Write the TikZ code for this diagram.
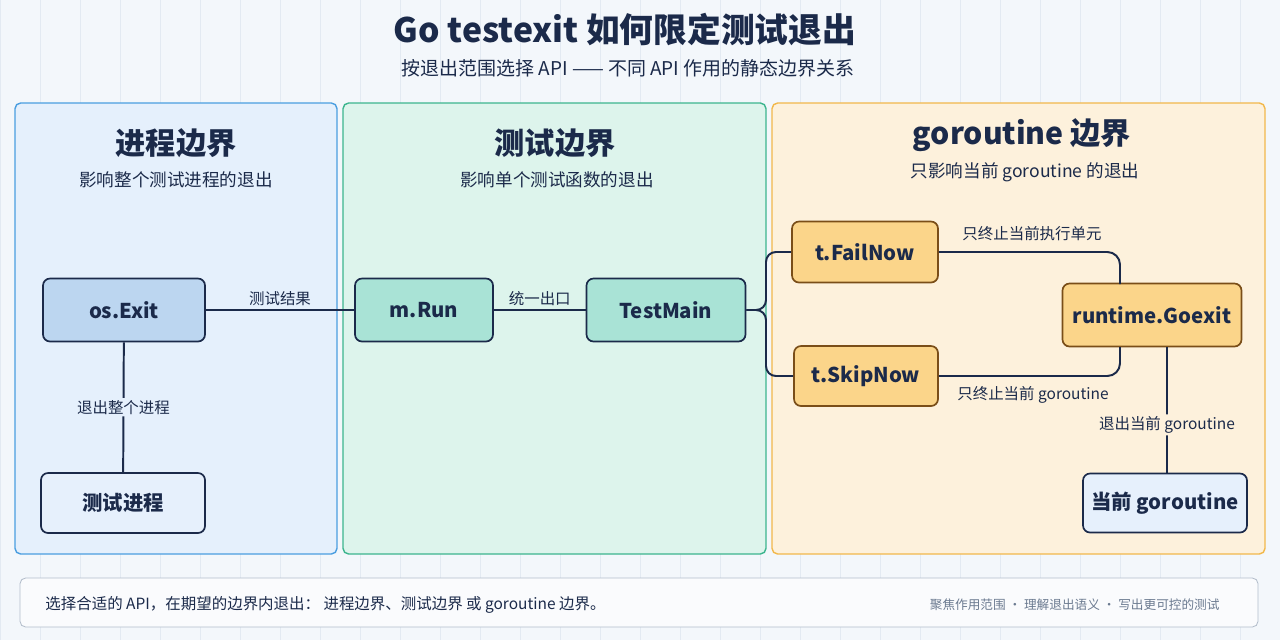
\documentclass[tikz,border=0pt]{standalone}
\usepackage{fontspec}
\setmainfont{Noto Sans CJK SC}
\usetikzlibrary{positioning}
\definecolor{ink}{HTML}{1B2A4A}
\definecolor{bgc}{HTML}{F3F7FB}
\definecolor{gridc}{HTML}{E3EAF2}
\definecolor{pblue}{HTML}{E5F0FC}
\definecolor{bblue}{HTML}{4A9EE0}
\definecolor{pgreen}{HTML}{DDF4EC}
\definecolor{bgreen}{HTML}{3CB58E}
\definecolor{porange}{HTML}{FDF1DC}
\definecolor{borange}{HTML}{F2B84B}
\definecolor{nblue}{HTML}{BCD6F0}
\definecolor{lblue}{HTML}{E6F0FC}
\definecolor{ngreen}{HTML}{A9E3D6}
\definecolor{norange}{HTML}{FBD58A}
\definecolor{dorange}{HTML}{7A4E18}
\definecolor{greytxt}{HTML}{6B7A90}
\tikzset{
  panel/.style={draw=#1, line width=2pt, rounded corners=8pt},
  box/.style={draw=ink, line width=2.4pt, rounded corners=10pt, text=ink,
    font=\fontsize{29}{32}\selectfont\bfseries},
  obox/.style={box, draw=dorange, fill=norange},
  link/.style={draw=ink, line width=2.8pt, rounded corners=18pt},
  lbl/.style={text=ink, font=\fontsize{22}{24}\selectfont},
  ptitle/.style={text=ink, font=\fontsize{43}{46}\selectfont\bfseries},
  psub/.style={text=ink, font=\fontsize{25}{28}\selectfont}
}
\begin{document}
\begin{tikzpicture}[x=0.05cm, y=-0.05cm]
  \useasboundingbox (0,0) rectangle (1280,640);
  \fill[bgc] (0,0) rectangle (1280,640);
  \draw[gridc, line width=0.6pt, step=40] (0,0) grid (1280,640);
  % title
  \node[text=ink, font=\fontsize{48}{52}\selectfont\bfseries] (title) at (625,30) {Go testexit 如何限定测试退出};
  \node[text=ink, font=\fontsize{27}{30}\selectfont] (subtitle) at (628,68) {按退出范围选择 API —— 不同 API 作用的静态边界关系};
  % panels
  \draw[panel=bblue, fill=pblue] (15,103) rectangle (337,554);
  \draw[panel=bgreen, fill=pgreen] (343,103) rectangle (766,554);
  \draw[panel=borange, fill=porange] (772,103) rectangle (1265,554);
  \node[ptitle] (t1) at (176,143) {进程边界};
  \node[psub] (s1) at (176,180) {影响整个测试进程的退出};
  \node[ptitle] (t2) at (555,143) {测试边界};
  \node[psub] (s2) at (557,180) {影响单个测试函数的退出};
  \node[ptitle] (t3) at (1022,135) {goroutine 边界};
  \node[psub] (s3) at (1025,172) {只影响当前 goroutine 的退出};
  % nodes
  \node[box, fill=nblue, minimum width=162*0.05cm, minimum height=63*0.05cm] (exit) at (124,310) {os.Exit};
  \node[box, fill=lblue, minimum width=164*0.05cm, minimum height=60*0.05cm] (proc) at (123,503) {测试进程};
  \node[box, fill=ngreen, minimum width=138*0.05cm, minimum height=63*0.05cm] (run) at (424,310) {m.Run};
  \node[box, fill=ngreen, minimum width=159*0.05cm, minimum height=63*0.05cm] (tmain) at (666,310) {TestMain};
  \node[obox, minimum width=146*0.05cm, minimum height=61*0.05cm] (fail) at (865,252) {t.FailNow};
  \node[obox, minimum width=144*0.05cm, minimum height=60*0.05cm] (skip) at (866,376) {t.SkipNow};
  \node[obox, minimum width=179*0.05cm, minimum height=63*0.05cm] (goexit) at (1152,315) {runtime.Goexit};
  \node[box, fill=lblue, minimum width=164*0.05cm, minimum height=59*0.05cm] (cur) at (1165,503) {当前 goroutine};
  % connectors
  \draw[link] (exit) -- node[lbl, above=2pt] {测试结果} (run);
  \draw[link] (run) -- node[lbl, above=2pt] {统一出口} (tmain);
  \draw[link] (exit) -- node[lbl, fill=pblue, inner sep=3pt] {退出整个进程} (proc);
  \draw[link, rounded corners=14pt] (tmain.east) -| (766,252) -- (fail.west);
  \draw[link, rounded corners=14pt] (tmain.east) -| (766,376) -- (skip.west);
  \draw[link] (fail.east) -| (1120,284);
  \draw[link] (skip.east) -| (1120,347);
  \node[lbl] (l1) at (1032,234) {只终止当前执行单元};
  \node[lbl] (l2) at (1033,395) {只终止当前 goroutine};
  \draw[link] (1167,347) -- node[lbl, fill=porange, inner sep=3pt, pos=0.62] {退出当前 goroutine} (cur.north -| 1167,0);
  % footer
  \draw[draw=gridc!60!greytxt, line width=1.2pt, fill=white!55!bgc, rounded corners=8pt] (20,578) rectangle (1258,627);
  \node[text=ink, anchor=west, font=\fontsize{22}{25}\selectfont] (foot1) at (43,605) {选择合适的 API，在期望的边界内退出： 进程边界、测试边界 或 goroutine 边界。};
  \node[text=greytxt, anchor=east, font=\fontsize{18}{20}\selectfont] (foot2) at (1222,605) {聚焦作用范围 · 理解退出语义 · 写出更可控的测试};
\end{tikzpicture}
\end{document}
